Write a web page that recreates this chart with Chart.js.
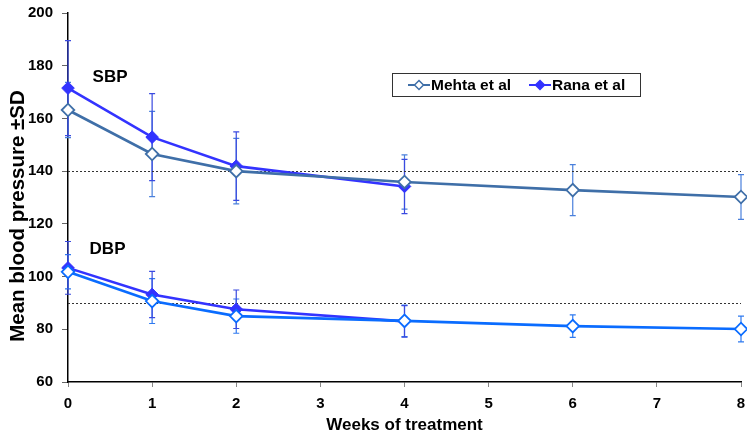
<!DOCTYPE html>
<html>
<head>
<meta charset="utf-8">
<script src="https://cdn.jsdelivr.net/npm/chart.js@4.4.1/dist/chart.umd.min.js"></script>
<style>
  html, body { margin: 0; padding: 0; background: #fff; }
  #wrap { width: 747px; height: 436px; }
</style>
</head>
<body>
<div id="wrap"><canvas id="c" width="747" height="436"></canvas></div>
<script>
// ---- data ----
const mehtaWeeks = [0, 1, 2, 4, 6, 8];
const ranaWeeks = [0, 1, 2, 4];
const mehtaSBP = [163.2, 146.5, 140.0, 135.9, 132.8, 130.2];
const mehtaSBPsd = [10.5, 16.2, 12.4, 10.3, 9.7, 8.5];
const ranaSBP = [171.5, 152.9, 141.9, 134.2];
const ranaSBPsd = [18.0, 16.5, 13.0, 10.3];
const mehtaDBP = [101.8, 90.7, 85.0, 83.2, 81.2, 80.1];
const mehtaDBPsd = [6.5, 8.5, 6.5, 6.0, 4.3, 4.9];
const ranaDBP = [103.3, 93.2, 87.6, 83.0];
const ranaDBPsd = [10.0, 8.8, 7.3, 6.0];
const refLines = [140, 90];
const xTicks = [0, 1, 2, 3, 4, 5, 6, 7, 8];
const yTicks = [60, 80, 100, 120, 140, 160, 180, 200];
const seriesNames = ['Mehta et al', 'Rana et al'];
const groupLabels = ['SBP', 'DBP'];
const groupLabelX = [0.5, 0.47];
const groupLabelY = [175.5, 110.3];
const xTitle = 'Weeks of treatment';
const yTitle = 'Mean blood pressure ±SD';

const FONT = '"Liberation Sans", Arial, Helvetica, sans-serif';
const C_MEHTA_S = '#3F6FA8';
const C_MEHTA_D = '#0A6CFF';
const C_RANA = '#3333FF';

function pts(xs, ys, sds) {
  return xs.map((x, i) => ({ x: x, y: ys[i], sd: sds[i] }));
}

function ds(label, xs, ys, sds, color, filled, errColor) {
  return {
    label: label,
    data: pts(xs, ys, sds),
    borderColor: color,
    backgroundColor: filled ? color : '#ffffff',
    pointBackgroundColor: filled ? color : '#ffffff',
    pointBorderColor: color,
    pointBorderWidth: filled ? 1 : 1.8,
    pointStyle: 'rectRot',
    pointRadius: 6.3,
    borderWidth: 2.6,
    tension: 0,
    fill: false,
    clip: false,
    errColor: errColor
  };
}

const datasets = [
  ds(seriesNames[0] + ' SBP', mehtaWeeks, mehtaSBP, mehtaSBPsd, C_MEHTA_S, false, '#4A80DC'),
  ds(seriesNames[0] + ' DBP', mehtaWeeks, mehtaDBP, mehtaDBPsd, C_MEHTA_D, false, '#2F7AF0'),
  ds(seriesNames[1] + ' SBP', ranaWeeks, ranaSBP, ranaSBPsd, C_RANA, true, '#3A4AE0'),
  ds(seriesNames[1] + ' DBP', ranaWeeks, ranaDBP, ranaDBPsd, C_RANA, true, '#3A4AE0')
];

const errorBars = {
  id: 'errorBars',
  beforeDatasetsDraw(chart) {
    const ctx = chart.ctx, xs = chart.scales.x, ys = chart.scales.y;
    ctx.save();
    ctx.lineWidth = 1.2;
    chart.data.datasets.forEach(d => {
      ctx.strokeStyle = d.errColor;
      d.data.forEach(p => {
        const px = xs.getPixelForValue(p.x);
        const top = ys.getPixelForValue(p.y + p.sd);
        const bot = ys.getPixelForValue(p.y - p.sd);
        ctx.beginPath();
        ctx.moveTo(px, top); ctx.lineTo(px, bot);
        ctx.moveTo(px - 3, top); ctx.lineTo(px + 3, top);
        ctx.moveTo(px - 3, bot); ctx.lineTo(px + 3, bot);
        ctx.stroke();
      });
    });
    // reference lines
    ctx.strokeStyle = '#333';
    ctx.lineWidth = 1;
    ctx.setLineDash([2, 2]);
    refLines.forEach(v => {
      const py = Math.round(ys.getPixelForValue(v)) + 0.5;
      ctx.beginPath();
      ctx.moveTo(xs.getPixelForValue(xs.min), py);
      ctx.lineTo(xs.getPixelForValue(xs.max), py);
      ctx.stroke();
    });
    ctx.setLineDash([]);
    // group labels
    ctx.fillStyle = '#000';
    ctx.font = 'bold 17px ' + FONT;
    ctx.textAlign = 'center';
    ctx.textBaseline = 'middle';
    groupLabels.forEach((t, i) => {
      ctx.fillText(t, xs.getPixelForValue(groupLabelX[i]), ys.getPixelForValue(groupLabelY[i]));
    });
    ctx.restore();
  }
};

function diamond(ctx, cx, cy, r, fill, stroke, lw) {
  ctx.beginPath();
  ctx.moveTo(cx, cy - r); ctx.lineTo(cx + r, cy); ctx.lineTo(cx, cy + r); ctx.lineTo(cx - r, cy);
  ctx.closePath();
  ctx.fillStyle = fill; ctx.fill();
  ctx.strokeStyle = stroke; ctx.lineWidth = lw; ctx.stroke();
}

const customLegend = {
  id: 'customLegend',
  afterDraw(chart) {
    const ctx = chart.ctx;
    ctx.save();
    // y axis title
    ctx.translate(18.5, 216);
    ctx.rotate(-Math.PI / 2);
    ctx.fillStyle = '#000';
    ctx.font = 'bold 20.5px ' + FONT;
    ctx.textAlign = 'center';
    ctx.textBaseline = 'middle';
    ctx.fillText(yTitle, 0, 0);
    ctx.restore();

    ctx.save();
    ctx.fillStyle = '#fff';
    ctx.fillRect(392.5, 73.5, 248, 23);
    ctx.strokeStyle = '#333';
    ctx.lineWidth = 1;
    ctx.strokeRect(392.5, 73.5, 248, 23);
    const yc = 85;
    const items = [
      { x0: 408, color: C_MEHTA_S, filled: false, text: seriesNames[0] },
      { x0: 529, color: C_RANA, filled: true, text: seriesNames[1] }
    ];
    ctx.font = 'bold 15.5px ' + FONT;
    ctx.textBaseline = 'middle';
    ctx.textAlign = 'left';
    items.forEach(it => {
      ctx.strokeStyle = it.color; ctx.lineWidth = 2;
      ctx.beginPath(); ctx.moveTo(it.x0, yc); ctx.lineTo(it.x0 + 22, yc); ctx.stroke();
      diamond(ctx, it.x0 + 11, yc, 4.5, it.filled ? it.color : '#fff', it.color, 1.5);
      ctx.fillStyle = '#000';
      ctx.fillText(it.text, it.x0 + 23, yc + 0.5);
    });
    ctx.restore();
  }
};

new Chart(document.getElementById('c'), {
  type: 'line',
  data: { datasets: datasets },
  options: {
    responsive: false,
    animation: false,
    devicePixelRatio: 1,
    layout: { autoPadding: false, padding: { top: 13, right: 6, left: 0, bottom: 0 } },
    plugins: { legend: { display: false }, tooltip: { enabled: false } },
    scales: {
      x: {
        type: 'linear',
        min: 0, max: 8,
        afterBuildTicks(s) { s.ticks = xTicks.map(v => ({ value: v })); },
        afterFit(s) { s.height = 54; s.paddingLeft = 0; s.paddingRight = 0; },
        grid: { drawOnChartArea: false, drawTicks: true, tickLength: 5, color: '#888', lineWidth: 1 },
        border: { display: true, color: '#000', width: 1.5 },
        ticks: { color: '#000', padding: 8, font: { family: FONT, size: 15, weight: 'bold' }, maxRotation: 0 },
        title: { display: true, text: xTitle, color: '#000',
                 font: { family: FONT, size: 17, weight: 'bold' }, padding: { top: 0, bottom: 0 } }
      },
      y: {
        min: 60, max: 200,
        afterBuildTicks(s) { s.ticks = yTicks.map(v => ({ value: v })); },
        afterFit(s) { s.width = 68; s.paddingTop = 0; s.paddingBottom = 0; },
        grid: { drawOnChartArea: false, drawTicks: true, tickLength: 6, color: '#666', lineWidth: 1 },
        border: { display: true, color: '#000', width: 1.5 },
        ticks: { color: '#000', padding: 9, font: { family: FONT, size: 15, weight: 'bold' } },
        title: { display: false }
      }
    }
  },
  plugins: [errorBars, customLegend]
});
</script>
</body>
</html>
